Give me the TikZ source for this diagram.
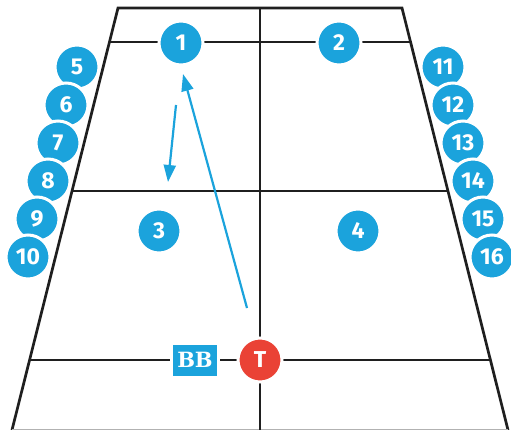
\documentclass[tikz,border=0pt]{standalone}
\usepackage{fontspec}
\setmainfont{Fira Sans}
\newfontfamily\slabfont{DejaVu Serif}
\usetikzlibrary{arrows.meta}
\definecolor{cblue}{RGB}{27,163,220}
\definecolor{cred}{RGB}{234,66,53}
\begin{document}
\begin{tikzpicture}[x=1pt,y=-1pt,
  court/.style={line width=2.7pt, draw=black!88, line join=miter},
  player/.style={circle, fill=cblue, draw=white, line width=3pt, minimum size=44pt, inner sep=0pt, text=white, font=\fontsize{23}{23}\selectfont\bfseries},
  tplayer/.style={player, fill=cred},
  bbox/.style={rectangle, fill=cblue, draw=white, line width=3pt, minimum width=47pt, minimum height=34pt, inner sep=0pt, text=white, font=\slabfont\fontsize{21}{21}\selectfont\bfseries},
  move/.style={draw=cblue, line width=2.2pt, -{Triangle[length=17pt,width=12pt]}}
]
\useasboundingbox (0,0) rectangle (511,430);
% court
\draw[court] (12,430) -- (118,8) -- (402,8) -- (508,430);
\draw[draw=gray!60, line width=1.2pt] (12,429.4) -- (508,429.4);
\draw[court] (260,8) -- (260,430);
\draw[court] (109.5,42) -- (410.5,42);
\draw[court] (72,191) -- (448,191);
\draw[court] (29.6,360) -- (490.4,360);
% movement arrows
\coordinate (s1) at (176,105);
\coordinate (e1) at (168,182);
\coordinate (s2) at (247,308);
\coordinate (e2) at (183,74);
\draw[move] (s1) -- (e1);
\draw[move] (s2) -- (e2);
% players
\node[player] (p1) at (181,43) {1};
\node[player] (p2) at (339,43) {2};
\node[player] (p3) at (159,231) {3};
\node[player] (p4) at (358,231) {4};
\node[player] (p5) at (77,67) {5};
\node[player] (p6) at (66,105) {6};
\node[player] (p7) at (58,143) {7};
\node[player] (p8) at (48,181) {8};
\node[player] (p9) at (37,219) {9};
\node[player] (p10) at (28,257) {10};
\node[player] (p11) at (443,67) {11};
\node[player] (p12) at (453,105) {12};
\node[player] (p13) at (463,143) {13};
\node[player] (p14) at (473,181) {14};
\node[player] (p15) at (483,219) {15};
\node[player] (p16) at (492,257) {16};
\node[bbox] (bb) at (195,360) {BB};
\node[tplayer] (t) at (260,360) {T};
\end{tikzpicture}
\end{document}
